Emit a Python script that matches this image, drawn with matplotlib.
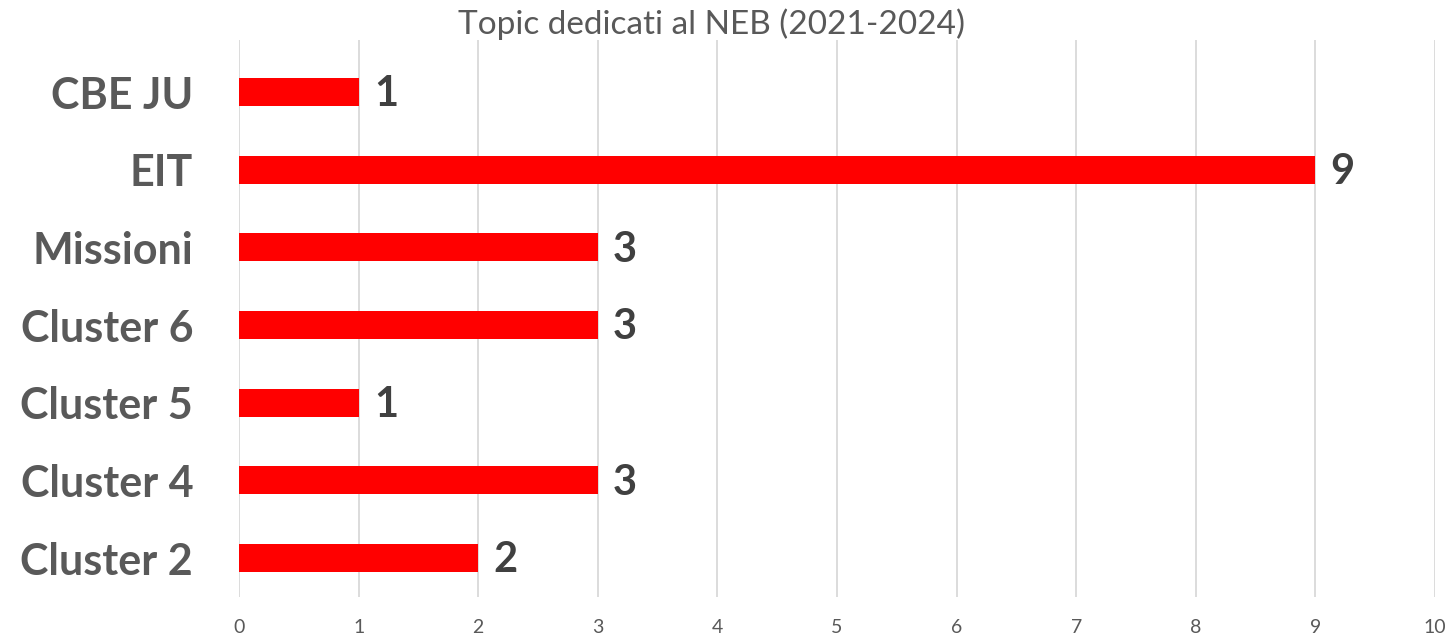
import matplotlib
matplotlib.use("Agg")
import matplotlib.pyplot as plt

categories = ["Cluster 2", "Cluster 4", "Cluster 5", "Cluster 6", "Missioni", "EIT", "CBE JU"]
values = [2, 3, 1, 3, 3, 9, 1]
xticks = list(range(0, 11))
title = "Topic dedicati al NEB (2021-2024)"

plt.rcParams['font.family'] = ['Lato', 'DejaVu Sans']

fig = plt.figure(figsize=(14.53, 6.37), dpi=100)
ax = fig.add_axes([239/1453, 40/637, (1435-239)/1453, (597-40)/637])

ypos = list(range(len(categories)))
ax.barh(ypos, values, height=0.36, color="#ff0000", zorder=3)
for y, v in zip(ypos, values):
    ax.annotate(str(v), (v, y), xytext=(11, -1.5), textcoords="offset points",
                ha="left", va="center", fontsize=30, fontweight="bold", color="#404040")

ax.set_xlim(0, 10)
ax.set_ylim(-0.5, 6.67)
ax.set_xticks(xticks)
ax.set_xticklabels([str(t) for t in xticks], fontsize=14, color="#595959")
ax.set_yticks(ypos)
ax.set_yticklabels(categories, fontsize=31, fontweight="bold", color="#595959")
ax.tick_params(axis="y", length=0, pad=33)
ax.tick_params(axis="x", length=0, pad=16)
ax.grid(axis="x", color="#d9d9d9", linewidth=1.3, zorder=0)
for s in ax.spines.values():
    s.set_visible(False)

fig.text(711/1453, 1 - 24/637, title, ha="center", va="center", fontsize=24, color="#595959")

fig.savefig("out.png", dpi=100)
